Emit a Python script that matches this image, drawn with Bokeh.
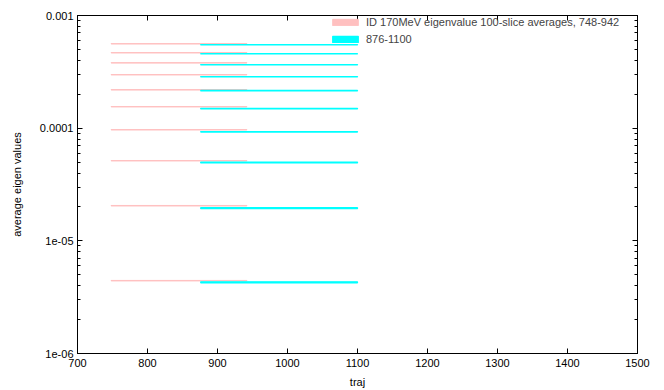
from bokeh.plotting import figure
from bokeh.models import (FixedTicker, LinearAxis, LogAxis, Legend, LegendItem,
                          ColumnDataSource, Range1d, CustomJSTickFormatter)
from bokeh.embed import file_html
from bokeh.resources import INLINE

# ---- data ----
series1_label = "ID 170MeV eigenvalue 100-slice averages, 748-942"
series1_xstart = 748
series1_xend = 942
series1_values = [5.61e-4, 4.67e-4, 3.80e-4, 2.98e-4, 2.19e-4, 1.55e-4,
                  9.68e-5, 5.14e-5, 2.05e-5, 4.43e-6]
series1_relerr = [0.004, 0.004, 0.004, 0.004, 0.004, 0.004,
                  0.004, 0.004, 0.005, 0.005]

series2_label = "876-1100"
series2_xstart = 876
series2_xend = 1100
series2_values = [5.50e-4, 4.57e-4, 3.65e-4, 2.86e-4, 2.15e-4, 1.49e-4,
                  9.29e-5, 4.96e-5, 1.95e-5, 4.28e-6]
series2_relerr = [0.003, 0.003, 0.004, 0.004, 0.005, 0.006,
                  0.006, 0.010, 0.010, 0.010]

x_ticks = [700, 800, 900, 1000, 1100, 1200, 1300, 1400, 1500]
y_ticks = [1e-6, 1e-5, 1e-4, 1e-3]
y_tick_labels = ["1e-06", "1e-05", "0.0001", "0.001"]

FONT = "Liberation Sans"

def boxes(values, relerr, x0, x1):
    return ColumnDataSource(dict(
        left=[x0] * len(values),
        right=[x1] * len(values),
        bottom=[v * (1 - e) for v, e in zip(values, relerr)],
        top=[v * (1 + e) for v, e in zip(values, relerr)],
    ))

p = figure(frame_width=560, frame_height=338, y_axis_type="log",
           x_range=Range1d(700, 1500), y_range=Range1d(1e-6, 1e-3),
           output_backend="svg", toolbar_location=None,
           min_border_left=77, min_border_right=27,
           min_border_top=13, min_border_bottom=39)
p.background_fill_color = "white"
p.border_fill_color = "white"
p.grid.visible = False
p.outline_line_color = "black"
p.outline_line_width = 1

r1 = p.quad(left="left", right="right", bottom="bottom", top="top",
            source=boxes(series1_values, series1_relerr, series1_xstart, series1_xend),
            fill_color="#ffc0c0", line_color="#ffc0c0", line_width=1)
r2 = p.quad(left="left", right="right", bottom="bottom", top="top",
            source=boxes(series2_values, series2_relerr, series2_xstart, series2_xend),
            fill_color="#00ffff", line_color="#00ffff", line_width=1.2)

minor_y = []
for d in [1e-6, 1e-5, 1e-4]:
    for k in range(2, 10):
        minor_y.append(d * k)

def style_axis(ax):
    ax.axis_line_color = "black"
    ax.major_tick_line_color = "black"
    ax.minor_tick_line_color = "black"
    ax.major_tick_in = 5
    ax.major_tick_out = 0
    ax.minor_tick_in = 3
    ax.minor_tick_out = 0
    ax.major_label_text_font = FONT
    ax.major_label_text_font_size = "11px"
    ax.major_label_text_color = "black"
    ax.axis_label_text_font = FONT
    ax.axis_label_text_font_size = "11px"
    ax.axis_label_text_font_style = "normal"
    ax.axis_label_text_color = "black"

xax = p.xaxis[0]
xax.ticker = FixedTicker(ticks=x_ticks)
xax.axis_label = "traj"
xax.major_label_standoff = 5
xax.axis_label_standoff = 6
style_axis(xax)

yax = p.yaxis[0]
yax.ticker = FixedTicker(ticks=y_ticks, minor_ticks=minor_y)
yax.major_label_overrides = {t: l for t, l in zip(y_ticks, y_tick_labels)}
yax.axis_label = "average eigen values"
yax.major_label_standoff = 4
yax.axis_label_standoff = 14
style_axis(yax)

blank = CustomJSTickFormatter(code="return ' ';")
top_ax = LinearAxis(ticker=FixedTicker(ticks=x_ticks), formatter=blank)
style_axis(top_ax)
top_ax.major_label_standoff = 0
p.add_layout(top_ax, "above")

right_ax = LogAxis(ticker=FixedTicker(ticks=y_ticks, minor_ticks=minor_y),
                   formatter=CustomJSTickFormatter(code="return ' ';"))
style_axis(right_ax)
right_ax.major_label_standoff = 0
p.add_layout(right_ax, "right")

legend = Legend(items=[LegendItem(label=series1_label, renderers=[r1]),
                       LegendItem(label=series2_label, renderers=[r2])],
                location=(252, 306))
legend.label_text_font = FONT
legend.label_text_font_size = "11px"
legend.glyph_width = 32
legend.glyph_height = 8
legend.spacing = 1
legend.padding = 0
legend.margin = 0
legend.label_height = 16
legend.border_line_color = None
legend.background_fill_alpha = 0
p.add_layout(legend)

open("out.html", "w").write(file_html(p, INLINE))
